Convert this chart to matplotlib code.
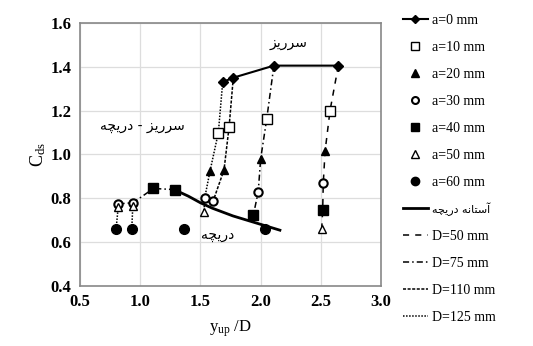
import matplotlib
matplotlib.use("Agg")
import matplotlib.pyplot as plt
from matplotlib.lines import Line2D

# marker data for each gate opening a
a0_x = [1.685, 1.773, 2.11, 2.645]
a0_y = [1.33, 1.35, 1.405, 1.405]
a10_x = [1.649, 1.738, 2.05, 2.576]
a10_y = [1.10, 1.125, 1.16, 1.20]
a20_x = [1.58, 1.696, 2.0, 2.535]
a20_y = [0.925, 0.93, 0.98, 1.015]
a30_x = [0.82, 0.94, 1.535, 1.607, 1.98, 2.52]
a30_y = [0.775, 0.78, 0.80, 0.79, 0.83, 0.87]
a40_x = [1.11, 1.29, 1.94, 2.515]
a40_y = [0.845, 0.84, 0.725, 0.745]
a50_x = [0.82, 0.94, 1.53, 2.507]
a50_y = [0.76, 0.765, 0.74, 0.66]
a60_x = [0.80, 0.93, 1.36, 2.04]
a60_y = [0.66, 0.66, 0.66, 0.66]

# lines joining the runs of one pipe diameter D
d50_x = [2.645, 2.576, 2.535, 2.52, 2.515, 2.507]
d50_y = [1.405, 1.20, 1.015, 0.87, 0.745, 0.66]
d75_x = [2.11, 2.05, 2.0, 1.98, 1.94]
d75_y = [1.405, 1.16, 0.98, 0.83, 0.725]
d75_left_x = [0.82, 0.94, 1.11, 1.29]
d75_left_y = [0.775, 0.78, 0.845, 0.84]
d110_x = [1.773, 1.738, 1.696, 1.607]
d110_y = [1.35, 1.125, 0.93, 0.79]
d125_x = [1.685, 1.649, 1.58, 1.535, 1.53]
d125_y = [1.33, 1.10, 0.925, 0.80, 0.74]
d125_v1_x = [0.80, 0.82]
d125_v1_y = [0.66, 0.775]
d125_v2_x = [0.93, 0.94]
d125_v2_y = [0.66, 0.78]

# gate threshold curve
thr_x = [1.29, 1.40, 1.50, 1.60, 1.77, 1.95, 2.16]
thr_y = [0.838, 0.81, 0.78, 0.755, 0.72, 0.69, 0.655]

# Persian labels (presentation forms, visual order)
txt_weir = "\uFEB0\uFEF3\uFEAD\uFEAE\uFEB3"
txt_gate = "\uFEEA\uFB7D\uFEF3\uFEAD\uFEA9"
txt_both = txt_gate + " - " + txt_weir
txt_thr = txt_gate + " " + "\uFEEA\uFEE7\uFE8E\uFE98\uFEB3\uFE81"

serif = "Liberation Serif"

fig = plt.figure(figsize=(5.33, 3.46), dpi=100)
ax = fig.add_axes([0.150, 0.173, 0.565, 0.761])

k = dict(color="black", lw=1.1)
ax.plot(d50_x, d50_y, ls=(0, (4, 4)), **k)
ax.plot(d75_x, d75_y, ls=(0, (4, 2, 1, 2)), **k)
ax.plot(d75_left_x, d75_left_y, ls=(0, (4, 2, 1, 2)), **k)
ax.plot(d110_x, d110_y, ls=(0, (2, 1)), **k)
ax.plot(d125_x, d125_y, ls=(0, (1, 1)), **k)
ax.plot(d125_v1_x, d125_v1_y, ls=(0, (1, 1)), **k)
ax.plot(d125_v2_x, d125_v2_y, ls=(0, (1, 1)), **k)
ax.plot(thr_x, thr_y, color="black", lw=2)

ax.plot(a0_x, a0_y, color="black", lw=1.5, marker="D", ms=5)
ax.plot(a10_x, a10_y, ls="none", marker="s", ms=7, mfc="white", mec="black")
ax.plot(a20_x, a20_y, ls="none", marker="^", ms=6, color="black")
ax.plot(a30_x, a30_y, ls="none", marker="o", ms=6, mfc="white", mec="black", mew=1.5)
ax.plot(a40_x, a40_y, ls="none", marker="s", ms=7, color="black")
ax.plot(a50_x, a50_y, ls="none", marker="^", ms=6, mfc="white", mec="black")
ax.plot(a60_x, a60_y, ls="none", marker="o", ms=7, color="black")

ax.text(2.23, 1.51, txt_weir, ha="center", va="center", fontsize=10, family="DejaVu Sans")
ax.text(1.02, 1.13, txt_both, ha="center", va="center", fontsize=10, family="DejaVu Sans")
ax.text(1.64, 0.635, txt_gate, ha="center", va="center", fontsize=10, family="DejaVu Sans")

ax.set_xlim(0.5, 3.0)
ax.set_ylim(0.4, 1.6)
ax.set_xticks([0.5, 1.0, 1.5, 2.0, 2.5, 3.0])
ax.set_yticks([0.4, 0.6, 0.8, 1.0, 1.2, 1.4, 1.6])
ax.set_xticklabels(["0.5", "1.0", "1.5", "2.0", "2.5", "3.0"])
ax.set_yticklabels(["0.4", "0.6", "0.8", "1.0", "1.2", "1.4", "1.6"])
for lab in ax.get_xticklabels() + ax.get_yticklabels():
    lab.set_family(serif)
    lab.set_fontweight("bold")
    lab.set_fontsize(12)
ax.tick_params(length=0, pad=6)
ax.grid(True, color="#dddddd", lw=0.9)
ax.set_axisbelow(True)
for s in ax.spines.values():
    s.set_color("#888888")
    s.set_linewidth(1.2)

ax.set_xlabel(r"$\mathregular{y_{up}}$ /D", family=serif, fontsize=12, labelpad=6)
ax.set_ylabel(r"$\mathregular{C_{ds}}$", family=serif, fontsize=13, labelpad=2)

handles = [
    Line2D([], [], color="black", lw=1.5, marker="D", ms=4),
    Line2D([], [], ls="none", marker="s", ms=6, mfc="white", mec="black"),
    Line2D([], [], ls="none", marker="^", ms=6, color="black"),
    Line2D([], [], ls="none", marker="o", ms=5, mfc="white", mec="black", mew=1.5),
    Line2D([], [], ls="none", marker="s", ms=6, color="black"),
    Line2D([], [], ls="none", marker="^", ms=6, mfc="white", mec="black"),
    Line2D([], [], ls="none", marker="o", ms=6, color="black"),
    Line2D([], [], color="black", lw=2),
    Line2D([], [], color="black", lw=1.1, ls=(0, (4, 4))),
    Line2D([], [], color="black", lw=1.1, ls=(0, (4, 2, 1, 2))),
    Line2D([], [], color="black", lw=1.1, ls=(0, (2, 1))),
    Line2D([], [], color="black", lw=1.1, ls=(0, (1, 1))),
]
labels = ["a=0 mm", "a=10 mm", "a=20 mm", "a=30 mm", "a=40 mm", "a=50 mm",
          "a=60 mm", txt_thr, "D=50 mm", "D=75 mm", "D=110 mm", "D=125 mm"]
leg = fig.legend(handles, labels, loc="upper left", bbox_to_anchor=(0.745, 0.975),
                 frameon=False, fontsize=10, handlelength=1.8, handletextpad=0.3,
                 labelspacing=1.0, borderaxespad=0)
for t in leg.get_texts():
    t.set_family([serif, "DejaVu Sans"])
leg.get_texts()[7].set_family("DejaVu Sans")
leg.get_texts()[7].set_fontsize(8)

fig.savefig("out.png", dpi=100)
